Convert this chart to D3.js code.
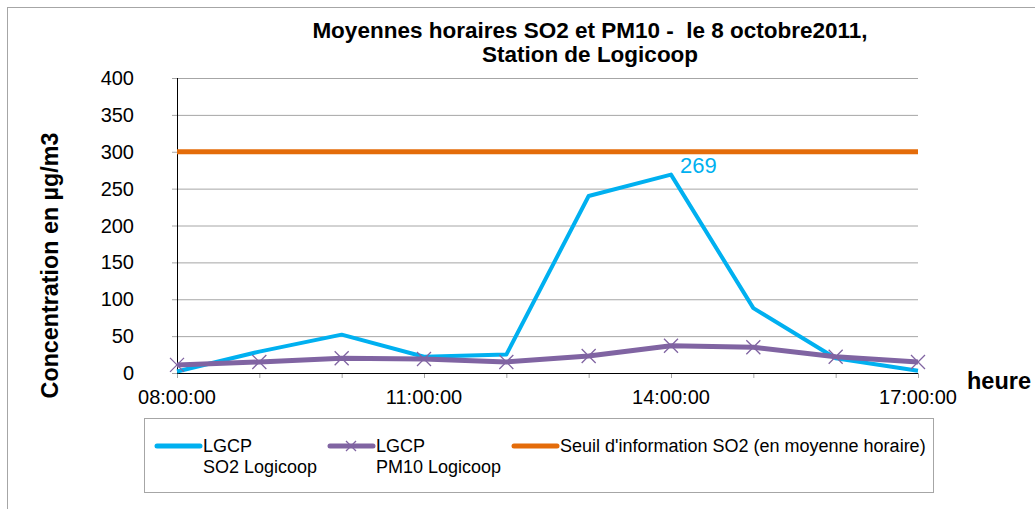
<!DOCTYPE html>
<html>
<head>
<meta charset="utf-8">
<script src="https://cdn.jsdelivr.net/npm/d3@7"></script>
<style>
  body { margin: 0; background: #fff; }
  svg { display: block; font-family: "Liberation Sans", Arial, sans-serif; }
</style>
</head>
<body>
<div id="chart"></div>
<script>
// Hourly values
const hours = ["08:00:00", "09:00:00", "10:00:00", "11:00:00", "12:00:00",
               "13:00:00", "14:00:00", "15:00:00", "16:00:00", "17:00:00"];
const so2 = [2, 29, 52, 22, 25, 240, 269, 88, 20, 3];
const pm10 = [11, 15, 20, 19, 15, 23, 37, 35, 22, 15];
const seuil = [300, 300, 300, 300, 300, 300, 300, 300, 300, 300];
const yTicks = [0, 50, 100, 150, 200, 250, 300, 350, 400];
const xLabels = ["08:00:00", "11:00:00", "14:00:00", "17:00:00"];

const width = 1035, height = 509;
const margin = { left: 177, right: 117, top: 78, bottom: 136 };

const svg = d3.select("#chart")
    .append("svg")
    .attr("width", width)
    .attr("height", height);

// Outer chart frame
svg.append("rect")
    .attr("x", 7.5).attr("y", 7.5)
    .attr("width", width + 10).attr("height", height + 10)
    .attr("fill", "none").attr("stroke", "#a6a6a6");

const x = d3.scalePoint()
    .domain(hours)
    .range([margin.left, width - margin.right]);

const y = d3.scaleLinear()
    .domain([0, 400])
    .range([height - margin.bottom, margin.top]);

// Title
svg.append("text")
    .attr("x", 590).attr("y", 38)
    .attr("text-anchor", "middle")
    .attr("font-weight", "bold").attr("font-size", 22.5)
    .attr("xml:space", "preserve")
    .text("Moyennes horaires SO2 et PM10 -  le 8 octobre2011,");
svg.append("text")
    .attr("x", 590).attr("y", 62)
    .attr("text-anchor", "middle")
    .attr("font-weight", "bold").attr("font-size", 22.5)
    .text("Station de Logicoop");

// Horizontal gridlines
svg.append("g")
    .attr("transform", `translate(${margin.left}, 0)`)
    .call(d3.axisLeft(y).tickValues(yTicks).tickSize(5).tickFormat(""))
    .call((g) => g.select(".domain").remove())
    .call((g) => g.selectAll(".tick line")
        .attr("x2", width - margin.right - margin.left)
        .attr("x1", -5)
        .attr("stroke", "#a6a6a6"));

// Y tick labels
svg.append("g")
    .selectAll("text")
    .data(yTicks)
    .join("text")
        .attr("x", 134)
        .attr("y", (d) => y(d) + 7)
        .attr("text-anchor", "end")
        .attr("font-size", 20)
        .attr("fill", "#000")
        .text((d) => d);

// X axis ticks (gray) and labels
svg.append("g")
    .attr("transform", `translate(0, ${y(0)})`)
    .call(d3.axisBottom(x).tickSize(5).tickFormat(""))
    .call((g) => g.select(".domain").remove())
    .call((g) => g.selectAll(".tick line").attr("stroke", "#a6a6a6"));

svg.append("g")
    .selectAll("text")
    .data(xLabels)
    .join("text")
        .attr("x", (d) => x(d))
        .attr("y", y(0) + 31)
        .attr("text-anchor", "middle")
        .attr("font-size", 20)
        .text((d) => d);

// Axis lines
svg.append("line")
    .attr("x1", margin.left + 0.5).attr("x2", margin.left + 0.5)
    .attr("y1", y(400)).attr("y2", y(0))
    .attr("stroke", "#000");
svg.append("line")
    .attr("x1", margin.left).attr("x2", width - margin.right)
    .attr("y1", y(0) + 0.5).attr("y2", y(0) + 0.5)
    .attr("stroke", "#000");

// Axis titles
svg.append("text")
    .attr("transform", `translate(58, ${(y(0) + y(400)) / 2 + 40}) rotate(-90)`)
    .attr("text-anchor", "middle")
    .attr("font-weight", "bold").attr("font-size", 23.3)
    .text("Concentration en µg/m3");
svg.append("text")
    .attr("x", 967).attr("y", 389)
    .attr("font-weight", "bold").attr("font-size", 23.5)
    .text("heure");

const line = (vals) => d3.line()
    .x((d, i) => x(hours[i]))
    .y((d) => y(d))(vals);

// Series
svg.append("path")
    .attr("d", line(seuil))
    .attr("fill", "none").attr("stroke", "#e46c0a")
    .attr("stroke-width", 5);

svg.append("path")
    .attr("d", line(so2))
    .attr("fill", "none").attr("stroke", "#00b0f0")
    .attr("stroke-width", 4).attr("stroke-linejoin", "round");

svg.append("path")
    .attr("d", line(pm10))
    .attr("fill", "none").attr("stroke", "#8064a2")
    .attr("stroke-width", 5).attr("stroke-linejoin", "round");

const cross = (g, cx, cy, r) => {
    g.append("path")
        .attr("d", `M${cx - r},${cy - r}L${cx + r},${cy + r}M${cx - r},${cy + r}L${cx + r},${cy - r}`)
        .attr("stroke", "#8064a2").attr("stroke-width", 1.3).attr("fill", "none");
};
const markers = svg.append("g");
pm10.forEach((d, i) => cross(markers, x(hours[i]), y(d), 7));

// Max value label
const iMax = so2.indexOf(d3.max(so2));
svg.append("text")
    .attr("x", x(hours[iMax]) + 9)
    .attr("y", y(so2[iMax]) - 2)
    .attr("font-size", 22)
    .attr("fill", "#00b0f0")
    .text(so2[iMax]);

// Legend
const legend = svg.append("g");
legend.append("rect")
    .attr("x", 144.5).attr("y", 418.5)
    .attr("width", 789).attr("height", 74)
    .attr("fill", "#fff").attr("stroke", "#a6a6a6");

const legendItems = [
    { color: "#00b0f0", x: 157, lines: ["LGCP", "SO2 Logicoop"], marker: false },
    { color: "#8064a2", x: 330, lines: ["LGCP", "PM10 Logicoop"], marker: true },
    { color: "#e46c0a", x: 514, lines: ["Seuil d'information SO2 (en moyenne horaire)"], marker: false }
];
legendItems.forEach((it) => {
    legend.append("line")
        .attr("x1", it.x).attr("x2", it.x + 43)
        .attr("y1", 446).attr("y2", 446)
        .attr("stroke", it.color).attr("stroke-width", 5)
        .attr("stroke-linecap", "round");
    if (it.marker) cross(legend, it.x + 21, 446, 5);
    it.lines.forEach((t, j) => {
        legend.append("text")
            .attr("x", it.x + 46).attr("y", 452 + j * 21)
            .attr("font-size", 18)
            .text(t);
    });
});
</script>
</body>
</html>
